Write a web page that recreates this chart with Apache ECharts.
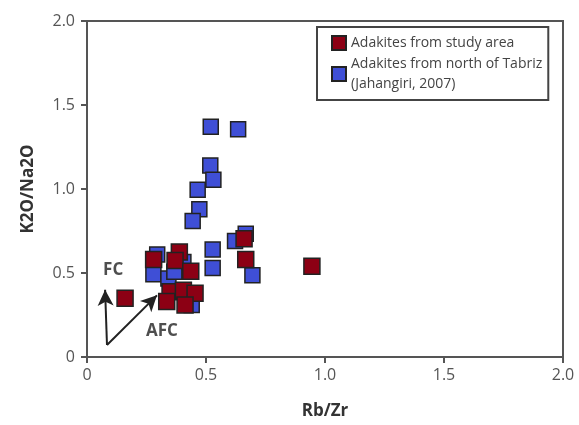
<!DOCTYPE html>
<html><head><meta charset="utf-8">
<script src="https://cdn.jsdelivr.net/npm/echarts@6/dist/echarts.min.js"></script>
<style>html,body{margin:0;padding:0;background:#fff}#c{width:579px;height:425px}</style>
</head><body><div id="c"></div>
<script>
// Rb/Zr vs K2O/Na2O
const studyName = 'Adakites from study area';
const tabrizName = 'Adakites from north of Tabriz\n(Jahangiri, 2007)';
const studyX = [0.16, 0.28, 0.388, 0.37, 0.436, 0.66, 0.667, 0.349, 0.405, 0.454, 0.335, 0.412, 0.945];
const studyY = [0.35, 0.58, 0.625, 0.575, 0.51, 0.704, 0.58, 0.389, 0.398, 0.379, 0.33, 0.31, 0.54];
const tabrizX = [0.52, 0.635, 0.518, 0.531, 0.465, 0.472, 0.444, 0.667, 0.622, 0.528, 0.528, 0.695, 0.295, 0.279, 0.342, 0.405, 0.367, 0.44];
const tabrizY = [1.37, 1.355, 1.14, 1.055, 0.995, 0.88, 0.81, 0.734, 0.69, 0.64, 0.53, 0.487, 0.61, 0.493, 0.467, 0.566, 0.507, 0.31];
const arrowOrigin = [0.084, 0.071];
const fcEnd = [0.076, 0.40];
const afcEnd = [0.294, 0.367];
const labelFC = {text: 'FC', pos: [0.11, 0.515]};
const labelAFC = {text: 'AFC', pos: [0.315, 0.154]};

const zip = (a, b) => a.map((v, i) => [v, b[i]]);
const chart = echarts.init(document.getElementById('c'));
const axisCommon = {
  min: 0, max: 2, interval: 0.5,
  axisLine: {show: true, onZero: false, lineStyle: {color: '#555', width: 2}},
  axisTick: {show: true, length: 6, lineStyle: {color: '#555', width: 2}},
  splitLine: {show: false},
  axisLabel: {color: '#555', fontSize: 16, fontFamily: 'Open Sans',
    formatter: v => v === 0 ? '0' : v.toFixed(1)},
  nameLocation: 'middle',
  nameTextStyle: {color: '#333', fontSize: 17, fontWeight: 'bold', fontFamily: 'Open Sans'}
};
chart.setOption({
  animation: false,
  grid: {left: 87, right: 16, top: 21, bottom: 66, show: true, borderColor: '#555', borderWidth: 2},
  xAxis: Object.assign({}, axisCommon, {type: 'value', name: 'Rb/Zr', nameGap: 46,
    axisLabel: Object.assign({}, axisCommon.axisLabel, {margin: 10})}),
  yAxis: Object.assign({}, axisCommon, {type: 'value', name: 'K2O/Na2O', nameGap: 50,
    axisLabel: Object.assign({}, axisCommon.axisLabel, {margin: 12})}),
  legend: {
    orient: 'vertical', left: 317, top: 27,
    padding: [6, 6, 6, 14], itemGap: 1,
    borderColor: '#444', borderWidth: 2,
    itemWidth: 14, itemHeight: 14,
    textStyle: {fontSize: 14, fontFamily: 'Open Sans', color: '#444', lineHeight: 20},
    data: [studyName, tabrizName]
  },
  series: [
    {
      name: tabrizName, type: 'scatter', symbol: 'rect', symbolSize: 15, z: 2,
      itemStyle: {color: '#3f4fd6', borderColor: '#222', borderWidth: 1.5, opacity: 1},
      data: zip(tabrizX, tabrizY)
    },
    {
      name: studyName, type: 'scatter', symbol: 'rect', symbolSize: 16, z: 3,
      itemStyle: {color: '#8c0014', borderColor: '#222', borderWidth: 1.5, opacity: 1},
      data: zip(studyX, studyY)
    },
    {
      type: 'scatter', symbolSize: 0, silent: true, z: 4,
      label: {show: true, position: 'inside', color: '#222', fontSize: 17, fontWeight: 'bold', fontFamily: 'Open Sans',
        formatter: p => p.data.name},
      data: [{name: labelFC.text, value: labelFC.pos}, {name: labelAFC.text, value: labelAFC.pos}],
      markLine: {
        silent: true, symbol: ['none', 'arrow'], symbolSize: [12, 16],
        label: {show: false},
        lineStyle: {color: '#222', width: 2, type: 'solid'},
        data: [
          [{coord: arrowOrigin}, {coord: fcEnd}],
          [{coord: arrowOrigin}, {coord: afcEnd}]
        ]
      }
    }
  ]
});
</script></body></html>
